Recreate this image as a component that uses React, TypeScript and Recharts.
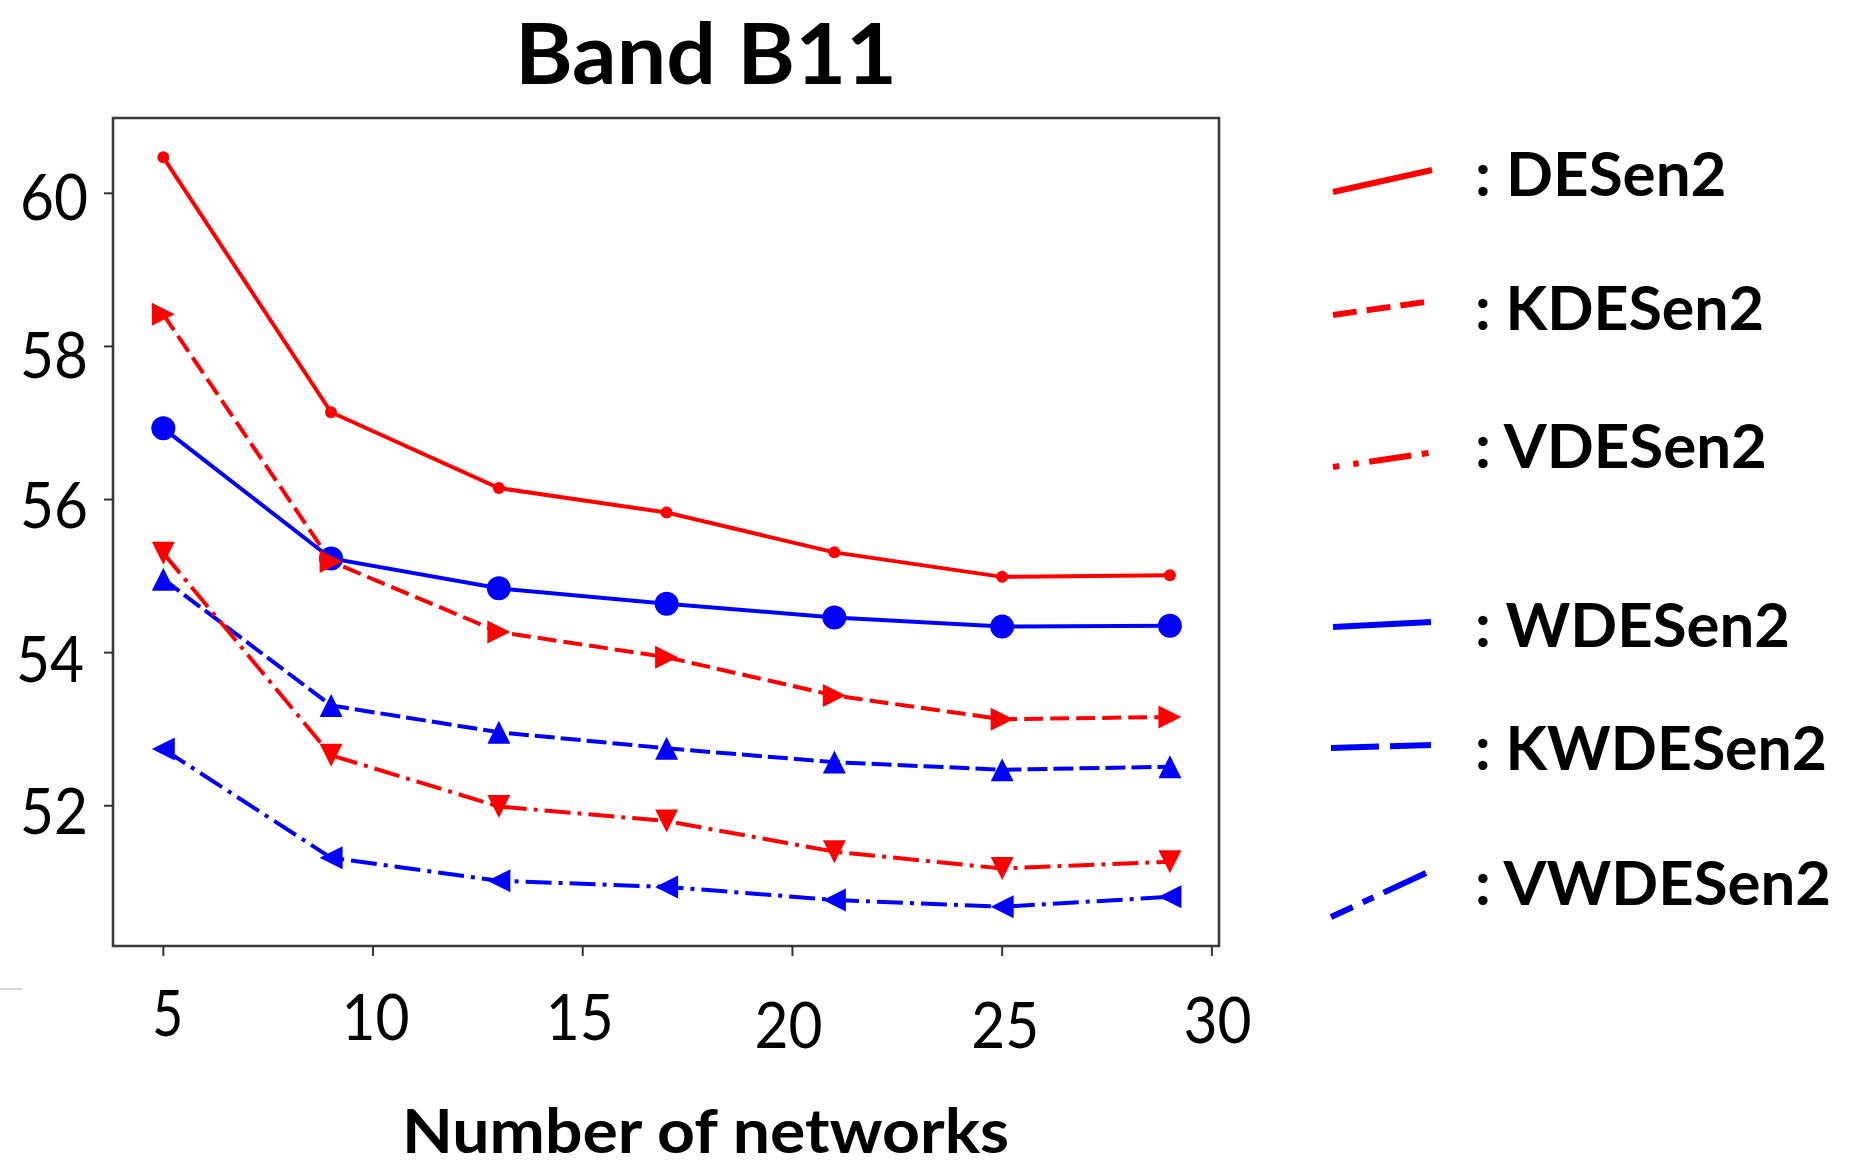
import React from 'react';
import { LineChart, Line, XAxis, YAxis, ReferenceArea } from 'recharts';

// ---------- data ----------
const X_VALUES = [5, 9, 13, 17, 21, 25, 29];
const DESEN2 = [60.47, 57.14, 56.15, 55.83, 55.31, 54.99, 55.01];
const KDESEN2 = [58.42, 55.19, 54.27, 53.94, 53.44, 53.13, 53.16];
const VDESEN2 = [55.3, 52.66, 51.99, 51.8, 51.4, 51.18, 51.27];
const WDESEN2 = [56.93, 55.23, 54.84, 54.64, 54.46, 54.34, 54.35];
const KWDESEN2 = [54.96, 53.31, 52.96, 52.75, 52.57, 52.47, 52.51];
const VWDESEN2 = [52.74, 51.32, 51.02, 50.94, 50.77, 50.68, 50.81];
const X_TICKS = [5, 10, 15, 20, 25, 30];
const Y_TICKS = [52, 54, 56, 58, 60];
const TITLE = 'Band B11';
const X_LABEL = 'Number of networks';

const X_DOMAIN: [number, number] = [3.8, 30.17];
const Y_DOMAIN: [number, number] = [50.168, 60.984];

const rows = X_VALUES.map((x, i) => ({
  x,
  DESen2: DESEN2[i],
  KDESen2: KDESEN2[i],
  VDESen2: VDESEN2[i],
  WDESen2: WDESEN2[i],
  KWDESen2: KWDESEN2[i],
  VWDESen2: VWDESEN2[i],
}));

// ---------- styles ----------
const RED = '#ff0000';
const BLUE = '#0000ff';
const FONT = "Lato, 'Open Sans', sans-serif";

type Marker = 'smallCircle' | 'bigCircle' | 'right' | 'down' | 'up' | 'left';
const SERIES: { key: string; color: string; dash?: string; marker: Marker }[] = [
  { key: 'DESen2', color: RED, marker: 'smallCircle' },
  { key: 'WDESen2', color: BLUE, marker: 'bigCircle' },
  { key: 'KDESen2', color: RED, dash: '19 7', marker: 'right' },
  { key: 'KWDESen2', color: BLUE, dash: '20 6', marker: 'up' },
  { key: 'VDESen2', color: RED, dash: '26 7 4 7', marker: 'down' },
  { key: 'VWDESen2', color: BLUE, dash: '26 7 4 7', marker: 'left' },
];

const LEGEND = [
  { key: 'DESen2', color: RED, x1: 1333, y1: 192, x2: 1432, y2: 170, dash: undefined, ty: 196, tl: 251.5 },
  { key: 'KDESen2', color: RED, x1: 1333, y1: 315, x2: 1425, y2: 302, dash: '24 10', ty: 330, tl: 289 },
  { key: 'VDESen2', color: RED, x1: 1333, y1: 467, x2: 1429, y2: 453, dash: '6.5 14 5.5 10.6 42.5 10.5 7 20', ty: 468, tl: 292 },
  { key: 'WDESen2', color: BLUE, x1: 1333, y1: 627, x2: 1431, y2: 622, dash: undefined, ty: 647, tl: 315 },
  { key: 'KWDESen2', color: BLUE, x1: 1331, y1: 748, x2: 1431, y2: 745, dash: '48 11', ty: 770, tl: 352 },
  { key: 'VWDESen2', color: BLUE, x1: 1331, y1: 917, x2: 1426, y2: 873, dash: '24 11 12 11 60', ty: 905, tl: 356 },
];

const X_TICK_OFFSETS: Record<number, [number, number]> = {
  5: [4.5, 79.5],
  10: [2.5, 84],
  15: [-3, 84],
  20: [-4, 91.5],
  25: [3, 91.5],
  30: [5.6, 87.3],
};
const Y_TICK_OFFSETS: Record<number, [number, number]> = {
  60: [0, 26.7],
  58: [0, 32],
  56: [0, 28.7],
  54: [-4, 29.4],
  52: [0, 28.3],
};

function renderMarker(marker: Marker, color: string, props: any) {
  const { cx, cy, index } = props;
  const k = `${marker}-${index}`;
  if (cx == null || cy == null) return <g key={k} />;
  const h = 11.5;
  switch (marker) {
    case 'smallCircle':
      return <circle key={k} cx={cx} cy={cy} r={6} fill={color} />;
    case 'bigCircle':
      return <circle key={k} cx={cx} cy={cy} r={12} fill={color} />;
    case 'right':
      return <path key={k} d={`M${cx + h},${cy} L${cx - h},${cy - h} L${cx - h},${cy + h} Z`} fill={color} />;
    case 'down':
      return <path key={k} d={`M${cx},${cy + h} L${cx - h},${cy - h} L${cx + h},${cy - h} Z`} fill={color} />;
    case 'up':
      return <path key={k} d={`M${cx},${cy - h} L${cx - h},${cy + h} L${cx + h},${cy + h} Z`} fill={color} />;
    case 'left':
      return <path key={k} d={`M${cx - h},${cy} L${cx + h},${cy - h} L${cx + h},${cy + h} Z`} fill={color} />;
  }
  return <g key={k} />;
}

function XTick(props: any) {
  const { x, y, payload } = props;
  const v = payload.value as number;
  const [dx, dy] = X_TICK_OFFSETS[v] || [0, 84];
  return (
    <text
      x={x + dx}
      y={y + dy}
      textAnchor="middle"
      fontFamily={FONT}
      fontSize={63}
      fill="#000"
      textLength={v < 10 ? 31 : 68}
      lengthAdjust="spacingAndGlyphs"
    >
      {v}
    </text>
  );
}

function YTick(props: any) {
  const { x, y, payload } = props;
  const v = payload.value as number;
  const [dx, dy] = Y_TICK_OFFSETS[v] || [0, 28];
  return (
    <text
      x={x + dx}
      y={y + dy}
      textAnchor="end"
      fontFamily={FONT}
      fontSize={63}
      fill="#000"
      textLength={68}
      lengthAdjust="spacingAndGlyphs"
    >
      {v}
    </text>
  );
}

export default function App() {
  return (
    <div style={{ position: 'absolute', left: 0, top: 0, width: 1855, height: 1175, background: '#fff' }}>
      <LineChart width={1855} height={1175} data={rows} margin={{ top: 118, right: 636, bottom: 0, left: 0 }}>
        <XAxis
          dataKey="x"
          type="number"
          domain={X_DOMAIN}
          ticks={X_TICKS}
          interval={0}
          allowDataOverflow
          height={229}
          axisLine={false}
          tickLine={{ stroke: '#333', strokeWidth: 2 }}
          tickSize={10}
          tickMargin={0}
          tick={(p: any) => <XTick {...p} />}
        />
        <YAxis
          type="number"
          domain={Y_DOMAIN}
          ticks={Y_TICKS}
          interval={0}
          allowDataOverflow
          width={113}
          axisLine={false}
          tickLine={{ stroke: '#333', strokeWidth: 2 }}
          tickSize={9}
          tickMargin={16}
          tick={(p: any) => <YTick {...p} />}
        />
        <ReferenceArea
          x1={X_DOMAIN[0]}
          x2={X_DOMAIN[1]}
          y1={Y_DOMAIN[0]}
          y2={Y_DOMAIN[1]}
          fill="none"
          fillOpacity={0}
          stroke="#3a3a3a"
          strokeWidth={2.6}
          ifOverflow="visible"
        />
        {SERIES.map((s) => (
          <Line
            key={s.key}
            dataKey={s.key}
            type="linear"
            stroke={s.color}
            strokeWidth={4}
            strokeDasharray={s.dash}
            dot={(p: any) => renderMarker(s.marker, s.color, p)}
            activeDot={false}
            isAnimationActive={false}
          />
        ))}
      </LineChart>
      <svg
        width={1855}
        height={1175}
        style={{ position: 'absolute', left: 0, top: 0, pointerEvents: 'none' }}
      >
        <text x={515} y={84} fontFamily={FONT} fontWeight={700} fontSize={85} fill="#000" textLength={382} lengthAdjust="spacingAndGlyphs">
          {TITLE}
        </text>
        <text x={402} y={1153} fontFamily={FONT} fontWeight={700} fontSize={62} fill="#000" textLength={607} lengthAdjust="spacingAndGlyphs">
          {X_LABEL}
        </text>
        <line x1={0} y1={989} x2={22} y2={989} stroke="#d4d4d4" strokeWidth={2} />
        {LEGEND.map((l) => (
          <g key={l.key}>
            <line x1={l.x1} y1={l.y1} x2={l.x2} y2={l.y2} stroke={l.color} strokeWidth={6} strokeDasharray={l.dash} />
            <text x={1475} y={l.ty} fontFamily={FONT} fontWeight={700} fontSize={62} fill="#000" textLength={l.tl} lengthAdjust="spacingAndGlyphs">
              {`: ${l.key}`}
            </text>
          </g>
        ))}
      </svg>
    </div>
  );
}
